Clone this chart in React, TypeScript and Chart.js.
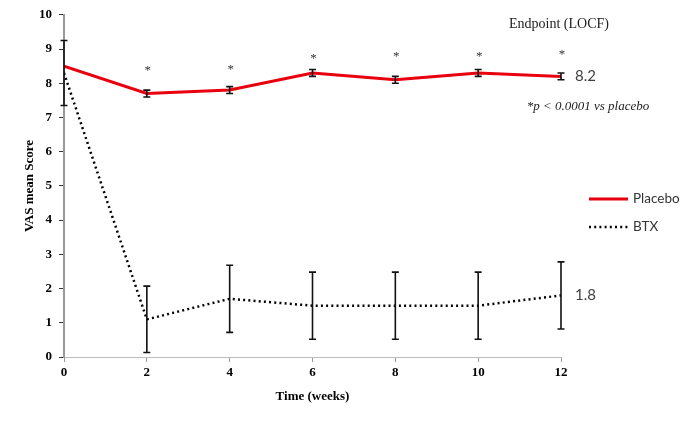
import React, { useEffect, useRef } from "react";
import { Chart, registerables } from "chart.js";

Chart.register(...registerables);

const weeks = [0, 2, 4, 6, 8, 10, 12];
const placebo = [8.5, 7.7, 7.8, 8.3, 8.1, 8.3, 8.2];
const placeboErr = [0, 0.1, 0.1, 0.1, 0.1, 0.1, 0.1];
const btx = [8.3, 1.1, 1.7, 1.5, 1.5, 1.5, 1.8];
const btxErr = [0.95, 0.97, 0.98, 0.98, 0.98, 0.98, 0.98];
// significance markers (level on the VAS scale where each "*" sits; null = none)
const asteriskLevel: (number | null)[] = [null, 8.38, 8.41, 8.75, 8.81, 8.81, 8.84];
const yTicks = [0, 1, 2, 3, 4, 5, 6, 7, 8, 9, 10];
const xTicks = [0, 2, 4, 6, 8, 10, 12];
const seriesNames = ["Placebo", "BTX"];
const endpointTitle = "Endpoint (LOCF)";
const footnote = "*p < 0.0001 vs placebo";

const RED = "#e8000e";

const overlay = {
  id: "overlay",
  afterDatasetsDraw(chart: any) {
    const { ctx, scales } = chart;
    const xs = scales.x;
    const ys = scales.y;
    ctx.save();
    // error bars
    const drawErr = (vals: number[], errs: number[], cap: number) => {
      vals.forEach((v, i) => {
        const e = errs[i];
        if (!e) return;
        const x = xs.getPixelForValue(weeks[i]);
        const yt = ys.getPixelForValue(v + e);
        const yb = ys.getPixelForValue(v - e);
        ctx.strokeStyle = "#111";
        ctx.lineWidth = 1.6;
        ctx.beginPath();
        ctx.moveTo(x, yt);
        ctx.lineTo(x, yb);
        ctx.moveTo(x - cap, yt);
        ctx.lineTo(x + cap, yt);
        ctx.moveTo(x - cap, yb);
        ctx.lineTo(x + cap, yb);
        ctx.stroke();
      });
    };
    drawErr(placebo, placeboErr, 3.5);
    drawErr(btx, btxErr, 3.5);

    // asterisks
    ctx.fillStyle = "#333";
    ctx.font = "13px 'Liberation Serif'";
    ctx.textAlign = "center";
    ctx.textBaseline = "alphabetic";
    asteriskLevel.forEach((lvl, i) => {
      if (lvl === null) return;
      const x = xs.getPixelForValue(weeks[i]);
      const y = ys.getPixelForValue(lvl);
      ctx.fillText("*", x + 1, y + 4);
    });

    // endpoint values
    const last = weeks.length - 1;
    const xEnd = xs.getPixelForValue(weeks[last]) + 14;
    ctx.fillStyle = "#404040";
    ctx.font = "15px Lato";
    ctx.textAlign = "left";
    ctx.textBaseline = "middle";
    ctx.fillText(placebo[last].toFixed(1), xEnd, ys.getPixelForValue(placebo[last]));
    ctx.fillText(btx[last].toFixed(1), xEnd, ys.getPixelForValue(btx[last]));

    // endpoint title + footnote
    ctx.fillStyle = "#222";
    ctx.font = "14px 'Liberation Serif'";
    ctx.textAlign = "center";
    ctx.fillText(endpointTitle, 559, 24);
    ctx.font = "italic 13px 'Liberation Serif'";
    ctx.fillText(footnote, 588, 107);

    // legend
    const lx0 = 589;
    const lx1 = 628;
    ctx.lineWidth = 3;
    ctx.strokeStyle = RED;
    ctx.beginPath();
    ctx.moveTo(lx0, 199);
    ctx.lineTo(lx1, 199);
    ctx.stroke();
    ctx.strokeStyle = "#000";
    ctx.lineWidth = 2.5;
    ctx.setLineDash([2, 3.2]);
    ctx.beginPath();
    ctx.moveTo(lx0, 227);
    ctx.lineTo(lx1, 227);
    ctx.stroke();
    ctx.setLineDash([]);
    ctx.fillStyle = "#333";
    ctx.font = "13.5px Lato";
    ctx.textAlign = "left";
    ctx.fillText(seriesNames[0], 633, 199);
    ctx.fillText(seriesNames[1], 633, 227);
    ctx.restore();
  },
};

export default function App() {
  const ref = useRef<HTMLCanvasElement | null>(null);
  useEffect(() => {
    if (!ref.current) return;
    const chart = new Chart(ref.current, {
      type: "line",
      data: {
        datasets: [
          {
            label: seriesNames[0],
            data: weeks.map((w, i) => ({ x: w, y: placebo[i] })),
            borderColor: RED,
            backgroundColor: RED,
            borderWidth: 3,
            pointRadius: 0,
            tension: 0,
          },
          {
            label: seriesNames[1],
            data: weeks.map((w, i) => ({ x: w, y: btx[i] })),
            borderColor: "#000",
            backgroundColor: "#000",
            borderWidth: 2.5,
            borderDash: [2, 3.2],
            pointRadius: 0,
            tension: 0,
          },
        ],
      },
      options: {
        responsive: false,
        animation: false,
        events: [],
        layout: { padding: { left: 0, right: 124, top: 12, bottom: 0 } },
        plugins: { legend: { display: false }, tooltip: { enabled: false } },
        scales: {
          x: {
            type: "linear",
            min: 0,
            max: 12,
            afterFit: (s: any) => {
              s.height = 67;
            },
            afterBuildTicks: (s: any) => {
              s.ticks = xTicks.map((v) => ({ value: v }));
            },
            ticks: {
              color: "#000",
              font: { family: "'Liberation Serif'", size: 13, weight: "bold" },
              padding: 3,
              maxRotation: 0,
            },
            grid: {
              drawOnChartArea: false,
              drawTicks: true,
              tickLength: 5,
              color: "#999",
            },
            border: { color: "#bdbdbd", width: 1 },
            title: {
              display: true,
              text: "Time (weeks)",
              color: "#000",
              font: { family: "'Liberation Serif'", size: 13, weight: "bold" },
              padding: { top: 0, bottom: 20 },
            },
          },
          y: {
            min: 0,
            max: 10,
            afterFit: (s: any) => {
              s.width = 64;
            },
            afterBuildTicks: (s: any) => {
              s.ticks = yTicks.map((v) => ({ value: v }));
            },
            ticks: {
              color: "#000",
              font: { family: "'Liberation Serif'", size: 13, weight: "bold" },
              padding: 7,
            },
            grid: {
              drawOnChartArea: false,
              drawTicks: true,
              tickLength: 5,
              color: "#333",
            },
            border: { color: "#9a9a9a", width: 2 },
            title: {
              display: true,
              text: "VAS mean Score",
              color: "#000",
              font: { family: "'Liberation Serif'", size: 13, weight: "bold" },
              padding: { top: 22, bottom: 0 },
            },
          },
        },
      },
      plugins: [overlay],
    });
    return () => chart.destroy();
  }, []);
  return (
    <div style={{ position: "fixed", left: 0, top: 0, width: 685, height: 424, background: "#fff" }}>
      <canvas ref={ref} width={685} height={424} style={{ width: 685, height: 424, display: "block" }} />
    </div>
  );
}
